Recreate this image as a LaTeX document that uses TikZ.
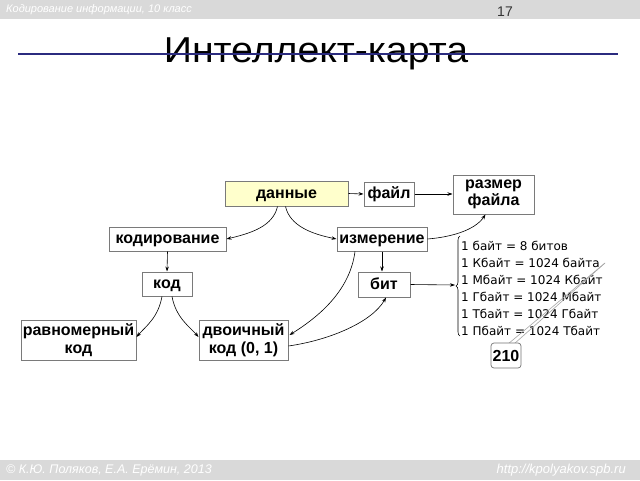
\documentclass[tikz,border=0pt]{standalone}
\usepackage{fontspec}
\setmainfont{DejaVu Sans}
\newfontfamily\arialf{Liberation Sans}
\usetikzlibrary{arrows.meta,calc,decorations.pathreplacing}
\definecolor{bargray}{HTML}{D9D9D9}
\definecolor{navy}{HTML}{2B2B7F}
\definecolor{lightyel}{HTML}{FFFFCC}
\definecolor{boxgray}{HTML}{7A7A7A}
\tikzset{
  box/.style={draw=boxgray, line width=1pt, fill=white, inner sep=0pt, align=center,
    font=\arialf\fontsize{16}{17.5}\selectfont\bfseries},
  onebox/.style={box, text height=12pt, text depth=3pt},
  conn/.style={line width=0.6pt, -{Stealth[length=5pt,width=3.5pt]}},
  fact/.style={anchor=west, inner sep=0pt, font=\fontsize{12}{14}\selectfont}
}
\begin{document}
\begin{tikzpicture}[x=1pt,y=-1pt]
\useasboundingbox (0,0) rectangle (640,480);
\fill[white] (0,0) rectangle (640,480);
% header / footer bars
\fill[bargray] (0,0) rectangle (640,19);
\fill[bargray] (0,460) rectangle (640,480);
\node[anchor=west, text=white, inner sep=0pt, font=\arialf\itshape\fontsize{11}{13}\selectfont] (hdr) at (6,10) {Кодирование информации, 10 класс};
\node[text=black!80, inner sep=0pt, font=\arialf\fontsize{14}{16}\selectfont] (pg) at (505,12) {17};
\node[anchor=west, text=white, inner sep=0pt, font=\arialf\itshape\fontsize{12.5}{14}\selectfont] (ftr) at (6,470) {© К.Ю. Поляков, Е.А. Ерёмин, 2013};
\node[anchor=east, text=white, inner sep=0pt, font=\arialf\itshape\fontsize{13}{15}\selectfont] (url) at (626,470) {http://kpolyakov.spb.ru};
% title
\node[anchor=base, inner sep=0pt, font=\arialf\fontsize{36}{40}\selectfont] (title) at (316,62) {\scalebox{1.09}[1]{Интеллект-карта}};
\draw[navy, line width=2pt] (18,54) -- (618,54);
% nodes
\node[onebox, fill=lightyel, minimum width=123pt, minimum height=25pt] (dan) at (286.5,193.5) {данные};
\node[onebox, minimum width=50pt, minimum height=24pt] (fil) at (389,194) {файл};
\node[box, minimum width=81pt, minimum height=39pt] (raz) at (493.5,194.5) {размер\\файла};
\node[onebox, minimum width=117pt, minimum height=24pt] (kodir) at (167.5,239) {кодирование};
\node[onebox, minimum width=90pt, minimum height=24pt] (izm) at (382,239) {измерение};
\node[onebox, minimum width=50pt, minimum height=24pt] (kod) at (167,284) {код};
\node[onebox, minimum width=52pt, minimum height=25pt] (bit) at (384,284.5) {бит};
\node[box, minimum width=115pt, minimum height=40pt] (ravn) at (78.5,340) {равномерный\\код};
\node[box, minimum width=89pt, minimum height=40pt] (dvo) at (243.5,340) {двоичный\\код (0, 1)};
% facts
\node[fact] (f1) at (461,246) {1 байт = 8 битов};
\node[fact] (f2) at (461,263) {1 Кбайт = 1024 байта};
\node[fact] (f3) at (461,280) {1 Мбайт = 1024 Кбайт};
\node[fact] (f4) at (461,297) {1 Гбайт = 1024 Мбайт};
\node[fact] (f5) at (461,314) {1 Тбайт = 1024 Гбайт};
\node[fact] (f6) at (461,331) {1 Пбайт = 1024 Тбайт};
\draw[line width=0.6pt, decorate, decoration={brace, amplitude=4pt}] (460,336) -- (460,236);
\coordinate (br) at (455,285);
% callout 210
\coordinate (tip) at (605,263);
\draw[black!35, line width=0.6pt] (508,344) -- (tip);
\draw[black!35, line width=0.6pt] (514,344) -- (tip);
\node[draw=black!55, rounded corners=3pt, fill=white, line width=0.7pt, minimum width=30pt, minimum height=25pt, inner sep=0pt, font=\arialf\fontsize{16}{18}\selectfont\bfseries] (c210) at (506,355.5) {210};
% connectors
\draw[conn] (dan.east) -- (fil.west);
\draw[conn] (fil.east) -- (raz.west |- fil.east);
\draw[conn] ($(dan.south)+(-9,0)$) .. controls (273,226) and (252,233) .. (kodir.east);
\draw[conn] ($(dan.south)+(-1,0)$) .. controls (290,226) and (312,234) .. (izm.west);
\draw[conn] (izm.east) .. controls (452,237) and (475,230) .. ($(raz.south)+(-8,0)$);
\draw[conn] (kodir.south) -- (kod.north);
\draw[conn] (izm.south) -- (bit.north -| izm.south);
\draw[conn] (bit.east) -- (br);
\draw[conn] ($(kod.south)+(-5,0)$) .. controls (158,318) and (146,326) .. ($(ravn.east)+(0,-3)$);
\draw[conn] ($(kod.south)+(5,0)$) .. controls (176,318) and (190,327) .. ($(dvo.west)+(0,-3)$);
\draw[conn] ($(izm.south)+(-27,0)$) .. controls (350,290) and (320,316) .. ($(dvo.east)+(1,-5)$);
\draw[conn] ($(dvo.east)+(0,6)$) .. controls (330,340) and (372,322) .. ($(bit.south)+(2,0)$);
\end{tikzpicture}
\end{document}
